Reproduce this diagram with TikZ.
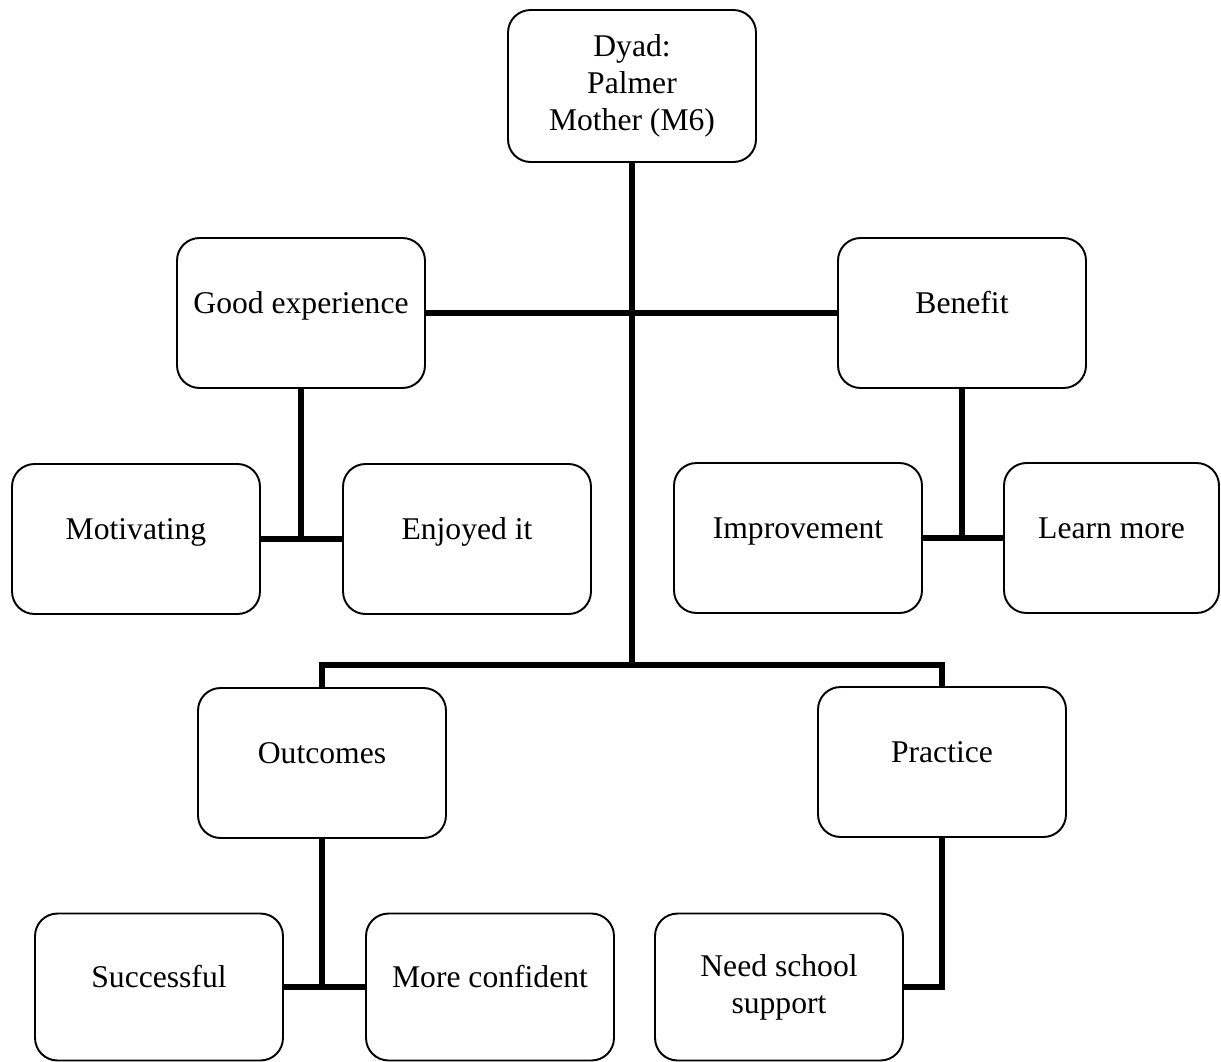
\documentclass[tikz,border=0pt]{standalone}
\usepackage{fontspec}
\setmainfont{Liberation Serif}

\begin{document}
\begin{tikzpicture}[x=0.02cm, y=-0.02cm, main/.style = {draw, line width=1.1pt, rounded corners=0.45cm, minimum width=4.96cm, minimum height=3cm, align=center, inner sep=2pt, text height=12pt, text depth=12pt, font=\fontsize{18}{21}\selectfont}, link/.style = {line width=3.3pt}]
                \useasboundingbox (0,0) rectangle (1221,1062);
                \node[main] (dyad) at (632,86) [minimum height=3.04cm, text height=, text depth=] {Dyad:\\Palmer\\Mother (M6)};
                \node[main] (good) at (301,313) [] {Good experience};
                \node[main] (benefit) at (962,313) [] {Benefit};
                \node[main] (motiv) at (136,539) [] {Motivating};
                \node[main] (enjoy) at (467,539) [] {Enjoyed it};
                \node[main] (improve) at (798,538) [] {Improvement};
                \node[main] (learn) at (1111.5,538) [minimum width=4.3cm] {Learn more};
                \node[main] (outcomes) at (322,763) [] {Outcomes};
                \node[main] (practice) at (942,762) [] {Practice};
                \node[main] (success) at (159,987) [minimum height=2.94cm] {Successful};
                \node[main] (confident) at (490,987) [minimum height=2.94cm] {More confident};
                \node[main] (school) at (779,987) [minimum height=2.94cm, text height=, text depth=] {Need school\\support};
                \coordinate (j) at (632,665);
                \draw[link] (dyad) to (j);
                \draw[link] (good) to (benefit);
                \draw[link] (outcomes) |- (j) -| (practice);
                \draw[link] (motiv) to (enjoy);
                \draw[link] (good) to (good |- motiv);
                \draw[link] (improve) to (learn);
                \draw[link] (benefit) to (benefit |- improve);
                \draw[link] (success) to (confident);
                \draw[link] (outcomes) to (outcomes |- success);
                \draw[link] (practice) |- (school);
            \end{tikzpicture}
\end{document}
